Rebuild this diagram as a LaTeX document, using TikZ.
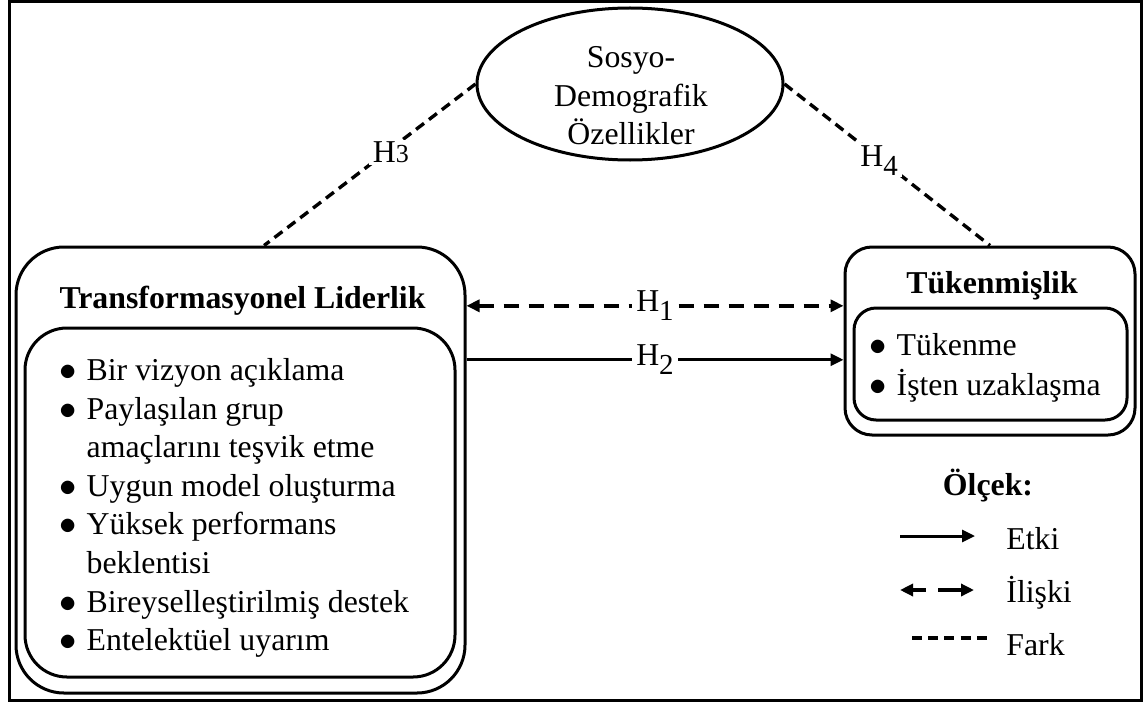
\documentclass[tikz,border=0pt]{standalone}
\usepackage{fontspec}
\setmainfont{Liberation Serif}
\usetikzlibrary{shapes.geometric,arrows.meta}

\newcommand{\hsub}[1]{\raisebox{-4.5pt}{\fontsize{14.5}{14.5}\selectfont #1}}

\begin{document}
\begin{tikzpicture}
  [x=0.5pt,y=-0.5pt,
   every node/.style={font=\fontsize{15.9}{19.3}\selectfont,inner sep=0pt},
   obox/.style={draw,line width=1.5pt,rounded corners=24pt},
   ibox/.style={draw,line width=1.5pt,rounded corners=21pt},
   ttl/.style={font=\fontsize{15.9}{19.3}\selectfont\bfseries,anchor=base},
   lst/.style={anchor=north west},
   hlab/.style={fill=white,inner xsep=2pt,inner ysep=1pt},
   etki/.style={-{Triangle[length=6.5pt,width=6pt]},line width=1.5pt},
   iliski/.style={{Triangle[length=6.5pt,width=6pt]}-{Triangle[length=6.5pt,width=6pt]},
     line width=2pt,dash pattern=on 7.5pt off 5pt},
   fark/.style={line width=1.7pt,dash pattern=on 5pt off 3.1pt}]
  \useasboundingbox (0,0) rectangle (1143,706);
  \draw[line width=1.5pt] (9,2) rectangle (1141,700);

  % ellipse at the top
  \node[ellipse,draw,line width=1.5pt,minimum width=153pt,minimum height=76pt] (nsd) at (630,84) {};
  \node[align=center] (nsdt) at (631,96) {Sosyo-\\Demografik\\Özellikler};

  % left box
  \node[obox,minimum width=224.5pt,minimum height=223pt] (ntl) at (240.5,470) {};
  \node[ttl] (ntlt) at (242.5,308) {Transformasyonel Liderlik};
  \node[ibox,minimum width=215pt,minimum height=174.5pt] (ntli) at (240,502.5) {};
  \node[lst] (ntll) at (59,353)
    {\begin{tabular}{@{}l@{\hspace{5pt}}l@{}}
      $\bullet$ & Bir vizyon açıklama\\
      $\bullet$ & Paylaşılan grup\\
                & amaçlarını teşvik etme\\
      $\bullet$ & Uygun model oluşturma\\
      $\bullet$ & Yüksek performans\\
                & beklentisi\\
      $\bullet$ & Bireyselleştirilmiş destek\\
      $\bullet$ & Entelektüel uyarım
     \end{tabular}};

  % right box
  \node[obox,rounded corners=13.5pt,minimum width=145pt,minimum height=94pt] (ntk) at (990,341) {};
  \node[ttl] (ntkt) at (992,293) {Tükenmişlik};
  \node[ibox,rounded corners=11pt,minimum width=136.5pt,minimum height=56pt] (ntki) at (990.5,364) {};
  \node[lst] (ntkl) at (869,328)
    {\begin{tabular}{@{}l@{\hspace{5pt}}l@{}}
      $\bullet$ & Tükenme\\[0.7pt]
      $\bullet$ & İşten uzaklaşma
     \end{tabular}};

  % hypotheses
  \draw[iliski] (ntl.36) -- node[hlab] (nh1) {H\hsub{1}} (ntl.36 -| ntk.west);
  \draw[etki] (ntl.26) -- node[hlab] (nh2) {H\hsub{2}} (ntl.26 -| ntk.west);
  \draw[fark] (nsd.west) -- node[hlab,pos=0.4,yshift=-2pt] (nh3)
    {H{\fontsize{13}{13}\selectfont 3}} (ntl.84.5);
  \draw[fark] (nsd.east) -- node[hlab,pos=0.46,yshift=-1pt] (nh4)
    {H\hsub{4}} (ntk.north);

  % legend
  \node[ttl] (nlg) at (988,495) {Ölçek:};
  \coordinate (le1) at (900,536);
  \coordinate (le2) at (975,536);
  \coordinate (li1) at (900,590);
  \coordinate (li2) at (974,590);
  \coordinate (lf1) at (912,638);
  \coordinate (lf2) at (987,638);
  \draw[etki] (le1) -- (le2);
  \draw[iliski,dash pattern=on 7pt off 6pt on 12pt off 1pt] (li1) -- (li2);
  \draw[fark,line width=1.9pt] (lf1) -- (lf2);
  \node[anchor=base west] (nle) at (1006,549) {Etki};
  \node[anchor=base west] (nli) at (1006,602) {İlişki};
  \node[anchor=base west] (nlf) at (1006,655) {Fark};
\end{tikzpicture}
\end{document}
